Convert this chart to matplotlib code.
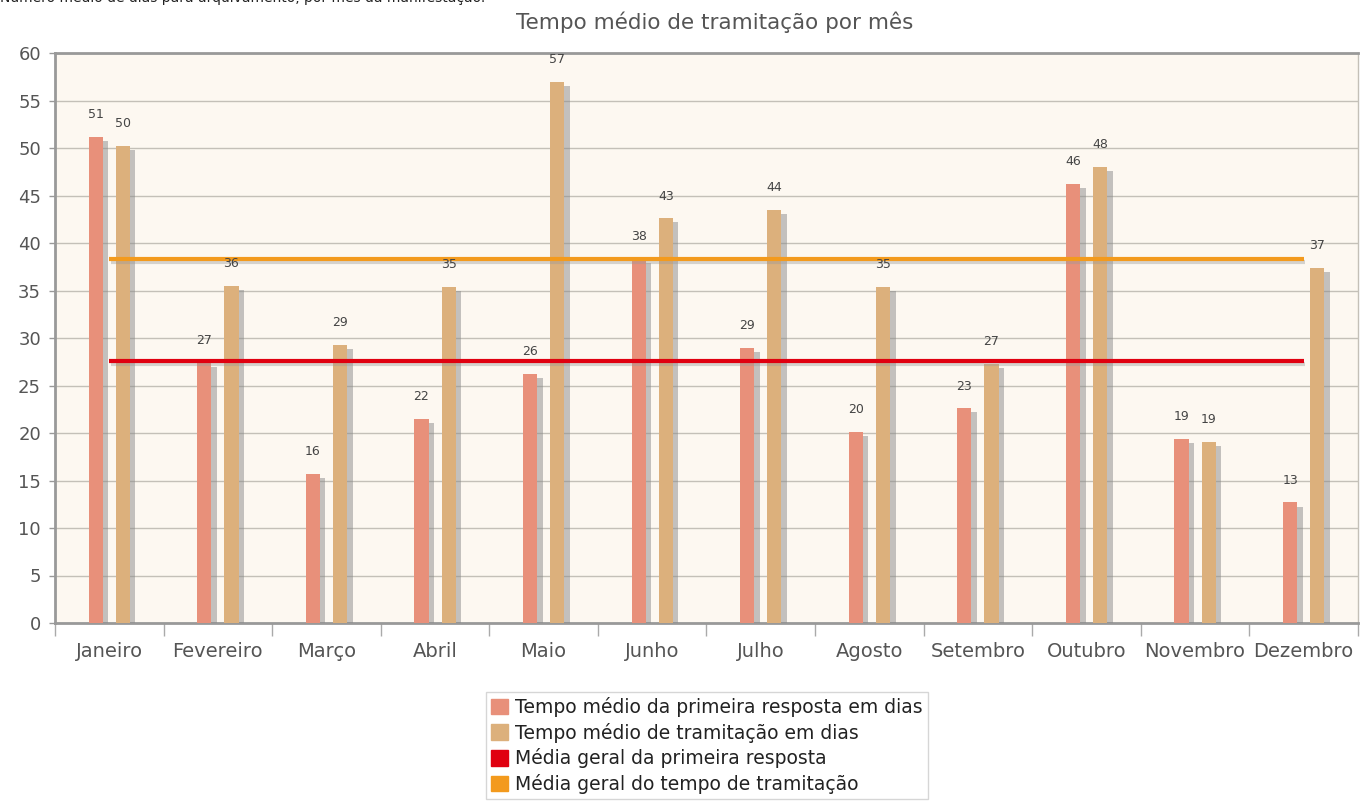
import matplotlib.pyplot as plt
import matplotlib.patheffects as pe
import numpy as np
from matplotlib.patches import Patch

# dados
meses = ['Janeiro', 'Fevereiro', 'Março', 'Abril', 'Maio', 'Junho',
         'Julho', 'Agosto', 'Setembro', 'Outubro', 'Novembro', 'Dezembro']
primeira_resposta = [51.2, 27.4, 15.7, 21.5, 26.2, 38.3, 29.0, 20.1, 22.6, 46.2, 19.4, 12.7]
tramitacao = [50.2, 35.5, 29.3, 35.4, 57.0, 42.6, 43.5, 35.4, 27.3, 48.0, 19.1, 37.4]
media_primeira = 27.6
media_tramitacao = 38.3

cor_primeira = '#e8907a'
cor_tramitacao = '#dcb07c'
cor_media_primeira = '#e00010'
cor_media_tramitacao = '#f39a1d'
cor_texto = '#555555'

fig = plt.figure(figsize=(13.61, 8.05), dpi=100)
ax = fig.add_axes([55 / 1361, 1 - 623 / 805, 1303 / 1361, 570 / 805])
ax.set_facecolor('#fdf8f1')

x = np.arange(len(meses))
w = 0.13
off = 0.125
sombra = [pe.SimplePatchShadow(offset=(4, -3), shadow_rgbFace='#8a8a8a', alpha=0.5), pe.Normal()]

b1 = ax.bar(x - off, primeira_resposta, w, color=cor_primeira, zorder=3)
b2 = ax.bar(x + off, tramitacao, w, color=cor_tramitacao, zorder=3)
for b in list(b1) + list(b2):
    b.set_path_effects(sombra)

for xi, v in zip(x, primeira_resposta):
    ax.annotate(f'{v:.0f}', (xi - off, v), xytext=(0, 16), textcoords='offset points',
                ha='center', va='center', fontsize=9, color='#444444', zorder=5)
for xi, v in zip(x, tramitacao):
    ax.annotate(f'{v:.0f}', (xi + off, v), xytext=(0, 16), textcoords='offset points',
                ha='center', va='center', fontsize=9, color='#444444', zorder=5)

linha_sombra = [pe.SimpleLineShadow(offset=(1, -2), shadow_color='#999999', alpha=0.4), pe.Normal()]
ax.plot([x[0], x[-1]], [media_primeira, media_primeira], color=cor_media_primeira, lw=3,
        zorder=4, path_effects=linha_sombra, solid_capstyle='butt')
ax.plot([x[0], x[-1]], [media_tramitacao, media_tramitacao], color=cor_media_tramitacao, lw=3,
        zorder=4, path_effects=linha_sombra, solid_capstyle='butt')

ax.set_xlim(-0.5, len(meses) - 0.5)
ax.set_ylim(0, 60)
ax.set_yticks(range(0, 61, 5))
ax.grid(axis='y', color='#c4c0b8', lw=1, zorder=0)
ax.set_axisbelow(True)

ax.set_xticks(x)
ax.set_xticklabels(meses)
ax.set_xticks(np.arange(-0.5, len(meses), 1), minor=True)
ax.tick_params(axis='x', which='major', length=0, pad=14, labelsize=14, labelcolor=cor_texto)
ax.tick_params(axis='x', which='minor', length=9, width=1, color='#aaaaaa', direction='out')
ax.tick_params(axis='y', length=4, width=1, color='#999999', labelsize=13, labelcolor=cor_texto, pad=6)

for s in ['left', 'bottom', 'top']:
    ax.spines[s].set_color('#999999')
    ax.spines[s].set_linewidth(2)
ax.spines['right'].set_color('#c4c0b8')
ax.spines['right'].set_linewidth(1)

fig.text(715 / 1361, 1 - 22 / 805, 'Tempo médio de tramitação por mês', ha='center', va='center',
         fontsize=15.5, color=cor_texto)
fig.text(0.0, 1 - 5 / 805, 'Número médio de dias para arquivamento, por mês da manifestação.',
         ha='left', va='bottom', fontsize=10, color='#222222')

handles = [Patch(color=cor_primeira), Patch(color=cor_tramitacao),
           Patch(color=cor_media_primeira), Patch(color=cor_media_tramitacao)]
labels = ['Tempo médio da primeira resposta em dias', 'Tempo médio de tramitação em dias',
          'Média geral da primeira resposta', 'Média geral do tempo de tramitação']
leg = fig.legend(handles, labels, loc='upper center', bbox_to_anchor=(707 / 1361, 1 - 683 / 805),
                 fontsize=13.5, frameon=True, fancybox=False, handlelength=0.9, handleheight=0.9,
                 handletextpad=0.4, labelspacing=0.3, borderpad=0.25, labelcolor='#222222')
leg.get_frame().set_edgecolor('#cccccc')
leg.get_frame().set_linewidth(1)

plt.savefig('out.png', dpi=100)
